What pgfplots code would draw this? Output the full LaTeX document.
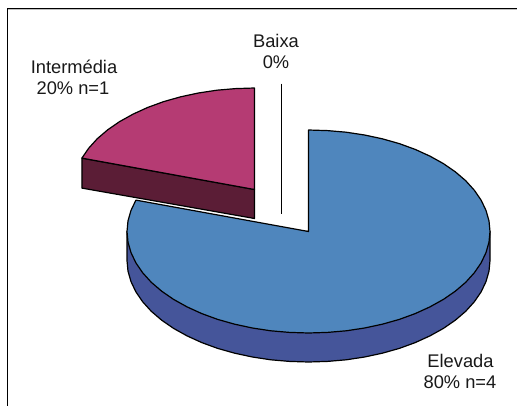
\documentclass[border=0pt]{standalone}
\usepackage{fontspec}
\setmainfont{Liberation Sans}
\usepackage{pgfplots}
\pgfplotsset{compat=1.18}
\definecolor{topblue}{HTML}{4F86BD}
\definecolor{sideblue}{HTML}{45559A}
\definecolor{topmag}{HTML}{B53B73}
\definecolor{sidemag}{HTML}{5B1D36}
\tikzset{lbl/.style={font=\fontsize{18.3}{21}\selectfont, anchor=base, inner sep=0pt, text=black!90}}
\begin{document}
\begin{tikzpicture}
\begin{axis}[
  scale only axis, width=517pt, height=405pt,
  xmin=0, xmax=517, ymin=-0.5, ymax=404.5, y dir=reverse,
  hide axis, clip=true,
  every axis plot/.append style={line width=1.2pt, line join=round, mark=none},
]
% page background and frame
\addplot[fill=white, draw=none] coordinates {(0,-0.5) (517,-0.5) (517,404.5) (0,404.5)} --cycle;
\addplot[color=black!25, line width=1pt] coordinates {(7.5,9.2) (517,9.2)};
\addplot[color=black] coordinates {(7.5,405) (7.5,7.9) (517,7.9)};
% side of the large slice
\addplot[fill=sideblue, draw=black] coordinates {
(127,231) (127,260) (128.0,270.6) (131.0,281.1) (135.9,291.4) (142.7,301.3) (151.3,310.8)
(161.7,319.7) (173.6,327.9) (187.1,335.4) (201.8,342.1) (217.7,347.9) (234.7,352.7)
(252.4,356.5) (270.8,359.3) (289.5,360.9) (308.5,361.5) (327.5,360.9) (346.2,359.3)
(364.6,356.5) (382.3,352.7) (399.3,347.9) (415.2,342.1) (429.9,335.4) (443.4,327.9)
(455.3,319.7) (465.7,310.8) (474.3,301.3) (481.1,291.4) (486.0,281.1) (489.0,270.6)
(490,260) (490,231)} --cycle;
% top of the large slice: Elevada, 80%
\addplot[fill=topblue, draw=black] coordinates {
(308.5,231) (308.5,129.5) (327.5,130.1) (346.2,131.7) (364.6,134.5) (382.3,138.3)
(399.3,143.1) (415.2,148.9) (429.9,155.6) (443.4,163.1) (455.3,171.3) (465.7,180.2)
(474.3,189.7) (481.1,199.6) (486.0,209.9) (489.0,220.4) (490,231) (489.0,241.6)
(486.0,252.1) (481.1,262.4) (474.3,272.3) (465.7,281.8) (455.3,290.7) (443.4,298.9)
(429.9,306.4) (415.2,313.1) (399.3,318.9) (382.3,323.7) (364.6,327.5) (346.2,330.3)
(327.5,331.9) (308.5,332.5) (289.5,331.9) (270.8,330.3) (252.4,327.5) (234.7,323.7)
(217.7,318.9) (201.8,313.1) (187.1,306.4) (173.6,298.9) (161.7,290.7) (151.3,281.8)
(142.7,272.3) (135.9,262.4) (131.0,252.1) (128.0,241.6) (127,231) (128.0,220.4)
(131.0,209.9) (135.9,199.6)} --cycle;
% Intermedia, 20%: side then top
\addplot[fill=sidemag, draw=black] coordinates {
(81.9,157.6) (81.9,187.6) (254.5,218) (254.5,189)} --cycle;
\addplot[fill=topmag, draw=black] coordinates {
(254.5,189) (254.5,87.5) (235.5,88.1) (216.8,89.7) (198.4,92.5) (180.7,96.3) (163.7,101.1)
(147.8,106.9) (133.1,113.6) (119.6,121.1) (107.7,129.3) (97.3,138.2) (88.7,147.7)
(81.9,157.6)} --cycle;
% Baixa, 0%
\addplot[color=black, line width=0.9pt] coordinates {(281.8,83) (281.8,213)};
% labels
\node[lbl] at (axis cs:276,46.5) {Baixa};
\node[lbl] at (axis cs:276,67.5) {0\%};
\node[lbl] at (axis cs:74,73) {Intermédia};
\node[lbl] at (axis cs:73,94) {20\% n=1};
\node[lbl] at (axis cs:460.5,367) {Elevada};
\node[lbl] at (axis cs:460,388) {80\% n=4};
\end{axis}
\end{tikzpicture}
\end{document}
